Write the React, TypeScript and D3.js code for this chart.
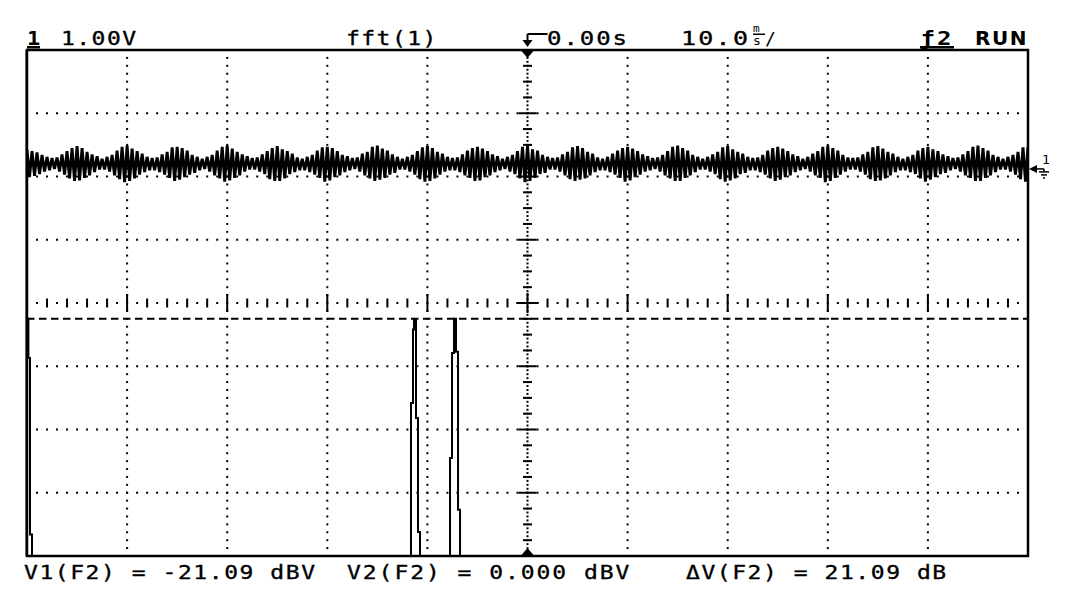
import React from "react";
import * as d3 from "d3";

// ---------- data ----------
// Channel 1 trace, volts, sampled every 0.25 ms over 100 ms (10 ms/div)
const ch1SampleMs = 0.25;
const ch1Volts: number[] = [
  0.22,-0.21,0.20,-0.19,0.18,-0.16,0.14,-0.12,0.11,-0.10,0.09,-0.08,0.10,-0.12,0.15,-0.17,0.20,-0.23,0.25,-0.27,
  0.28,-0.26,0.25,-0.22,0.19,-0.18,0.15,-0.13,0.12,-0.09,0.08,-0.09,0.11,-0.12,0.14,-0.18,0.21,-0.24,0.27,-0.29,
  0.29,-0.27,0.24,-0.23,0.20,-0.17,0.16,-0.13,0.11,-0.10,0.09,-0.10,0.10,-0.13,0.15,-0.17,0.19,-0.22,0.26,-0.27,
  0.27,-0.25,0.25,-0.21,0.21,-0.17,0.14,-0.14,0.11,-0.10,0.08,-0.08,0.11,-0.12,0.14,-0.18,0.21,-0.23,0.27,-0.28,
  0.29,-0.26,0.24,-0.22,0.19,-0.18,0.15,-0.12,0.12,-0.09,0.09,-0.09,0.10,-0.12,0.15,-0.16,0.20,-0.24,0.25,-0.27,
  0.28,-0.27,0.23,-0.23,0.20,-0.16,0.16,-0.13,0.10,-0.10,0.08,-0.10,0.11,-0.13,0.14,-0.17,0.21,-0.22,0.26,-0.28,
  0.27,-0.26,0.25,-0.21,0.20,-0.18,0.14,-0.13,0.12,-0.10,0.09,-0.08,0.10,-0.12,0.16,-0.18,0.19,-0.23,0.27,-0.27,
  0.29,-0.25,0.24,-0.22,0.21,-0.17,0.15,-0.14,0.11,-0.09,0.08,-0.09,0.11,-0.12,0.14,-0.17,0.20,-0.24,0.26,-0.28,
  0.28,-0.27,0.25,-0.23,0.19,-0.17,0.16,-0.12,0.11,-0.10,0.09,-0.10,0.10,-0.13,0.15,-0.18,0.21,-0.22,0.25,-0.27,
  0.27,-0.26,0.24,-0.21,0.20,-0.18,0.15,-0.13,0.12,-0.10,0.08,-0.08,0.11,-0.12,0.14,-0.16,0.20,-0.23,0.27,-0.29,
  0.29,-0.27,0.23,-0.22,0.21,-0.16,0.14,-0.14,0.11,-0.09,0.09,-0.09,0.10,-0.12,0.15,-0.18,0.19,-0.24,0.26,-0.27,
  0.28,-0.25,0.25,-0.23,0.19,-0.18,0.16,-0.13,0.10,-0.10,0.08,-0.10,0.11,-0.13,0.16,-0.17,0.21,-0.22,0.25,-0.28,
  0.27,-0.26,0.24,-0.21,0.20,-0.17,0.15,-0.12,0.12,-0.10,0.09,-0.08,0.10,-0.12,0.14,-0.18,0.20,-0.23,0.27,-0.27,
  0.29,-0.27,0.25,-0.22,0.21,-0.18,0.14,-0.13,0.11,-0.09,0.08,-0.09,0.11,-0.12,0.15,-0.16,0.19,-0.24,0.26,-0.28,
  0.28,-0.26,0.23,-0.23,0.19,-0.16,0.16,-0.14,0.11,-0.10,0.09,-0.10,0.10,-0.13,0.14,-0.17,0.21,-0.23,0.25,-0.27,
  0.27,-0.25,0.24,-0.21,0.20,-0.18,0.15,-0.13,0.12,-0.10,0.08,-0.08,0.11,-0.12,0.16,-0.18,0.20,-0.22,0.27,-0.29,
  0.29,-0.27,0.25,-0.22,0.21,-0.17,0.14,-0.12,0.10,-0.09,0.09,-0.09,0.10,-0.12,0.15,-0.17,0.19,-0.24,0.26,-0.27,
  0.28,-0.26,0.24,-0.23,0.19,-0.18,0.16,-0.13,0.11,-0.10,0.08,-0.10,0.11,-0.13,0.14,-0.16,0.21,-0.23,0.25,-0.28,
  0.27,-0.25,0.23,-0.21,0.20,-0.16,0.15,-0.14,0.12,-0.10,0.09,-0.08,0.10,-0.12,0.15,-0.18,0.20,-0.22,0.27,-0.27,
  0.29,-0.27,0.25,-0.22,0.21,-0.18,0.14,-0.13,0.11,-0.09,0.08,-0.09,0.11,-0.12,0.14,-0.17,0.19,-0.24,0.26,-0.28,
  0.27,
];
const ch1Dc = 0.08; // volts
const ch1PositionDiv = 2.12; // ground marker, divisions above centre

// FFT of channel 1 (F2): frequency (Hz) and level (dBV), step display
const fftFreqHz = [0, 7, 15, 25, 1918, 1928, 1933, 1943, 1953, 1963, 2113, 2123, 2133, 2143, 2153, 2163, 5000];
const fftLevelDbv = [0, -6.2, -34.1, -40, -13.3, -1.7, -0.2, -15.7, -33.7, -40, -22.0, -5.4, 0.0, -5.2, -30.2, -40, -40];

// Cursor readouts
const cursorV1Dbv = -21.09;
const cursorV2Dbv = 0.0;

// Labels
const topLabels = { ch: "1", volts: "1.00V", fn: "fft(1)", delay: "0.00s", time: "10.0", fnSel: "ƒ2", run: "RUN" };

// ---------- layout ----------
const W = 1075, H = 607;
const L = 27, R = 1028, T = 50, B = 556;

const xDiv = d3.scaleLinear().domain([0, 10]).range([L, R]);
const yDiv = d3.scaleLinear().domain([0, 8]).range([B, T]);
const xTime = d3.scaleLinear().domain([0, 100]).range([L, R]);
const yCh1 = d3.scaleLinear().domain([-4 - ch1PositionDiv, 4 - ch1PositionDiv]).range([B, T]);
const xFreq = d3.scaleLinear().domain([0, 5000]).range([L, R]);
const yFFT = d3.scaleLinear().domain([-37.5, 42.5]).range([B, T]);

function MonoText(props: { x: number; y: number; text: string; size: number; pitch: number; sx: number; bold?: boolean; family?: string }) {
  const { x, y, text, size, pitch, sx, bold, family } = props;
  const adv = 0.602 * size;
  const ls = pitch / sx - adv;
  return (
    <text
      transform={`translate(${x},${y}) scale(${sx},1)`}
      fontFamily={family || "DejaVu Sans Mono"}
      fontSize={size}
      letterSpacing={ls}
      fontWeight={bold ? "bold" : "normal"}
      fill="#000"
      stroke={bold ? "none" : "#000"}
      strokeWidth={bold ? 0 : 0.35}
      style={{ whiteSpace: "pre" }}
    >
      {text}
    </text>
  );
}

export default function App() {
  const ch1Line = d3
    .line<number>()
    .x((_, i) => xTime(i * ch1SampleMs))
    .y((v) => yCh1(v + ch1Dc));

  const fftPts = fftFreqHz.map((f, i) => [f, fftLevelDbv[i]] as [number, number]);
  const fftLine = d3
    .line<[number, number]>()
    .curve(d3.curveStepAfter)
    .x((d) => xFreq(d[0]))
    .y((d) => yFFT(d[1]));

  // grid dots
  const dots: JSX.Element[] = [];
  for (let i = 1; i <= 9; i++) {
    if (i === 5) continue;
    for (let j = 1; j < 64; j++) {
      dots.push(<rect key={`v${i}-${j}`} x={xDiv(i) - 1} y={yDiv(j / 8) - 1} width={2} height={2} fill="#000" />);
    }
  }
  for (let j = 1; j <= 7; j++) {
    if (j === 4) continue;
    for (let k = 1; k < 100; k++) {
      dots.push(<rect key={`h${j}-${k}`} x={xDiv(k / 10) - 1} y={yDiv(j) - 1} width={2} height={2} fill="#000" />);
    }
  }
  // centre horizontal axis
  const cy = yDiv(4);
  for (let k = 1; k < 100; k++) {
    const x = xDiv(k / 10);
    if (k === 50) continue;
    if (k % 2 === 1) dots.push(<rect key={`ch${k}`} x={x - 1} y={cy - 1} width={2} height={2} fill="#000" />);
    else if (k % 10 === 0) dots.push(<rect key={`ch${k}`} x={x - 1} y={cy - 9} width={2} height={18} fill="#000" />);
    else dots.push(<rect key={`ch${k}`} x={x - 1} y={cy - 4.5} width={2} height={9} fill="#000" />);
  }
  // centre vertical axis
  const cx = xDiv(5);
  for (let j = 1; j < 128; j++) {
    const y = yDiv(j / 16);
    if (j === 64) continue;
    dots.push(<rect key={`cv${j}`} x={cx - 1} y={y - 1} width={2} height={2} fill="#000" />);
    if (j % 16 === 0) dots.push(<rect key={`cvt${j}`} x={cx - 9} y={y - 1} width={18} height={2} fill="#000" />);
    else if (j % 4 === 0) dots.push(<rect key={`cvt${j}`} x={cx - 4.5} y={y - 1} width={9} height={2} fill="#000" />);
  }

  const gndY = yCh1(0);

  return (
    <svg width={W} height={H} style={{ position: "absolute", left: 0, top: 0, background: "#fff" }}>
      <defs>
        <clipPath id="plot">
          <rect x={L} y={T} width={R - L} height={B - T} />
        </clipPath>
      </defs>
      <rect x={0} y={0} width={W} height={H} fill="#fff" />

      {/* grid */}
      <g>{dots}</g>
      {/* centre cross */}
      <rect x={cx - 11} y={cy - 1} width={22} height={2} fill="#000" />
      <rect x={cx - 1} y={cy - 10} width={2} height={20} fill="#000" />

      {/* cursor */}
      <line x1={L} x2={R} y1={yFFT(cursorV2Dbv)} y2={yFFT(cursorV2Dbv)} stroke="#000" strokeWidth={2} strokeDasharray="7.5 4.5" />

      {/* traces */}
      <g clipPath="url(#plot)">
        <path d={ch1Line(ch1Volts) || ""} fill="none" stroke="#000" strokeWidth={2.9} strokeLinejoin="bevel" />
        <path d={fftLine(fftPts) || ""} fill="none" stroke="#000" strokeWidth={2} />
      </g>

      {/* frame */}
      <rect x={L} y={T} width={R - L} height={B - T} fill="none" stroke="#000" strokeWidth={2.5} />
      <rect x={L - 1.5} y={T} width={2} height={B - T} fill="#000" />

      {/* trigger markers */}
      <path d={`M${cx - 6},${T + 1}L${cx + 6},${T + 1}L${cx},${T + 8}Z`} fill="#000" />
      <path d={`M${cx - 6},${B - 1}L${cx + 6},${B - 1}L${cx},${B - 8}Z`} fill="#000" />

      {/* ground marker */}
      <path d={`M${R + 1},${gndY}L${R + 9},${gndY - 4}L${R + 9},${gndY + 4}Z`} fill="#000" />
      <line x1={R + 8} x2={R + 16} y1={gndY} y2={gndY} stroke="#000" strokeWidth={1.5} />
      <line x1={R + 16} x2={R + 16} y1={gndY} y2={gndY + 3} stroke="#000" strokeWidth={1.5} />
      <line x1={R + 11} x2={R + 21} y1={gndY + 3} y2={gndY + 3} stroke="#000" strokeWidth={1.5} />
      <line x1={R + 13} x2={R + 19} y1={gndY + 6} y2={gndY + 6} stroke="#000" strokeWidth={1.5} />
      <line x1={R + 15} x2={R + 17} y1={gndY + 9} y2={gndY + 9} stroke="#000" strokeWidth={1.5} />
      <text x={R + 14} y={gndY - 5} fontFamily="DejaVu Sans Mono" fontSize={13} fill="#000">{topLabels.ch}</text>

      {/* top labels */}
      <MonoText x={27} y={45} text={topLabels.ch} size={20} pitch={14} sx={1.1} bold />
      <rect x={27} y={46} width={13} height={2.5} fill="#000" />
      <MonoText x={61} y={45} text={topLabels.volts} size={20} pitch={15.3} sx={1.15} />
      <MonoText x={346} y={45} text={topLabels.fn} size={20} pitch={15.3} sx={1.15} />
      <path d={`M${cx},${34}L${cx},${41}M${cx},${34}L${cx + 20},${34}`} stroke="#000" strokeWidth={2} fill="none" />
      <path d={`M${cx - 5},${40}L${cx + 5},${40}L${cx},${47}Z`} fill="#000" />
      <MonoText x={547} y={45} text={topLabels.delay} size={20} pitch={16.4} sx={1.2} />
      <MonoText x={681} y={45} text={topLabels.time} size={20} pitch={17.3} sx={1.25} />
      <text x={753} y={32} fontFamily="DejaVu Sans Mono" fontSize={11} fill="#000">m</text>
      <rect x={753} y={33.5} width={12} height={1.5} fill="#000" />
      <text x={753} y={45} fontFamily="DejaVu Sans Mono" fontSize={13} fill="#000">s</text>
      <text x={765} y={45} fontFamily="DejaVu Sans Mono" fontSize={18} fill="#000">/</text>
      <MonoText x={920} y={45} text={topLabels.fnSel} size={20} pitch={17} sx={1.2} bold />
      <rect x={920} y={46} width={34} height={2.5} fill="#000" />
      <text x={975} y={45} fontFamily="DejaVu Sans" fontWeight="bold" fontSize={20} letterSpacing={1.5} fill="#000">{topLabels.run}</text>

      {/* bottom readouts */}
      <MonoText x={24} y={579} text={`V1(F2) = ${cursorV1Dbv.toFixed(2)} dBV`} size={20} pitch={15.4} sx={1.15} />
      <MonoText x={347} y={579} text={`V2(F2) = ${cursorV2Dbv.toFixed(3)} dBV`} size={20} pitch={15.8} sx={1.15} />
      <MonoText x={686} y={579} text={`ΔV(F2) = ${(cursorV2Dbv - cursorV1Dbv).toFixed(2)} dB`} size={20} pitch={15.4} sx={1.15} />
    </svg>
  );
}
